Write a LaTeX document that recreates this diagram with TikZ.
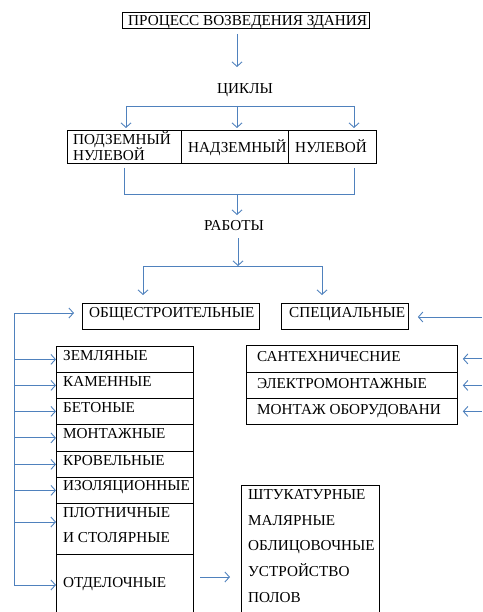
\documentclass[tikz,border=0pt]{standalone}
\usepackage{fontspec}
\setmainfont{Liberation Serif}
\usetikzlibrary{arrows.meta,calc}
\definecolor{lnblue}{RGB}{79,129,189}
\begin{document}
\begin{tikzpicture}[x=1pt,y=-1pt,
  font=\fontsize{15.2}{17}\selectfont,
  arr/.style={draw=lnblue, line width=0.9pt, -{Straight Barb[length=4.5pt,width=10pt]}},
  ln/.style={draw=lnblue, line width=0.9pt},
  box/.style={draw=black, line width=0.8pt, inner sep=0pt, anchor=north west},
  txt/.style={inner sep=0pt, anchor=base west}
]
\useasboundingbox (0,0) rectangle (482,612);

% ---- title ----
\node[box, line width=1.2pt, minimum width=247pt, minimum height=16pt] (title) at (122,12) {};
\node[txt] (ttl) at (128,25.5) {ПРОЦЕСС ВОЗВЕДЕНИЯ ЗДАНИЯ};

% ---- cycles ----
\node[txt] (cyc) at (217,94) {ЦИКЛЫ};
\node[box, minimum width=114pt, minimum height=33pt] (c1) at (67,130) {};
\node[box, minimum width=107pt, minimum height=33pt] (c2) at (181,130) {};
\node[box, minimum width=88pt, minimum height=33pt] (c3) at (288,130) {};
\node[txt] (c1a) at (73,145) {ПОДЗЕМНЫЙ};
\node[txt] (c1b) at (73,161) {НУЛЕВОЙ};
\node[txt] (c2t) at (188,153) {НАДЗЕМНЫЙ};
\node[txt] (c3t) at (295,153) {НУЛЕВОЙ};

% ---- works ----
\node[txt] (rab) at (204,230) {РАБОТЫ};
\node[box, minimum width=177pt, minimum height=26pt] (obs) at (82,303) {};
\node[txt] (obst) at (89,317.5) {ОБЩЕСТРОИТЕЛЬНЫЕ};
\node[box, minimum width=127pt, minimum height=26pt] (spec) at (281,303) {};
\node[txt] (spect) at (289,317.5) {СПЕЦИАЛЬНЫЕ};

% ---- general works list ----
\node[box, minimum width=137pt, minimum height=26pt] (r1) at (56,346) {};
\node[box, minimum width=137pt, minimum height=26pt] (r2) at (56,372) {};
\node[box, minimum width=137pt, minimum height=26pt] (r3) at (56,398) {};
\node[box, minimum width=137pt, minimum height=27pt] (r4) at (56,424) {};
\node[box, minimum width=137pt, minimum height=26pt] (r5) at (56,451) {};
\node[box, minimum width=137pt, minimum height=26pt] (r6) at (56,477) {};
\node[box, minimum width=137pt, minimum height=51pt] (r7) at (56,503) {};
\node[box, minimum width=137pt, minimum height=64pt] (r8) at (56,554) {};
\node[txt] (t1) at (63,360) {ЗЕМЛЯНЫЕ};
\node[txt] (t2) at (63,386.5) {КАМЕННЫЕ};
\node[txt] (t3) at (63,412.5) {БЕТОНЫЕ};
\node[txt] (t4) at (63,438) {МОНТАЖНЫЕ};
\node[txt] (t5) at (63,465) {КРОВЕЛЬНЫЕ};
\node[txt] (t6) at (63,490.5) {ИЗОЛЯЦИОННЫЕ};
\node[txt] (t7a) at (63,517) {ПЛОТНИЧНЫЕ};
\node[txt] (t7b) at (63,542) {И СТОЛЯРНЫЕ};
\node[txt] (t8) at (63,587) {ОТДЕЛОЧНЫЕ};

% ---- special works list ----
\node[box, minimum width=211pt, minimum height=27pt] (s1) at (246,345) {};
\node[box, minimum width=211pt, minimum height=26pt] (s2) at (246,372) {};
\node[box, minimum width=211pt, minimum height=26pt] (s3) at (246,398) {};
\node[txt] (u1) at (257,361) {САНТЕХНИЧЕСНИЕ};
\node[txt] (u2) at (257,388) {ЭЛЕКТРОМОНТАЖНЫЕ};
\node[txt] (u3) at (257,414) {МОНТАЖ ОБОРУДОВАНИ};

% ---- finishing list ----
\node[box, minimum width=138pt, minimum height=140pt] (fin) at (241,485) {};
\node[txt] (f1) at (248,499) {ШТУКАТУРНЫЕ};
\node[txt] (f2) at (248,525) {МАЛЯРНЫЕ};
\node[txt] (f3) at (248,550) {ОБЛИЦОВОЧНЫЕ};
\node[txt] (f4) at (248,576) {УСТРОЙСТВО};
\node[txt] (f5) at (248,602) {ПОЛОВ};

% ---- coordinates for free ends ----
\coordinate (ta) at (237,34);
\coordinate (ca) at (237,67);
\coordinate (bl) at (126,106);
\coordinate (bm) at (237,106);
\coordinate (br) at (354,106);
\coordinate (ce) at (237,128);
\coordinate (ul) at (124,168);
\coordinate (ur) at (354,168);
\coordinate (jl) at (124,194);
\coordinate (jm) at (237,194);
\coordinate (jr) at (354,194);
\coordinate (re) at (237,215);
\coordinate (ws) at (238,238);
\coordinate (wm) at (238,266);
\coordinate (wl) at (143,266);
\coordinate (wr) at (322,266);
\coordinate (we) at (0,295);
\coordinate (L) at (14,313);
\coordinate (Lb) at (14,585);
\coordinate (R) at (482,317);

% ---- connectors ----
\draw[arr] (ta) -- (ca);
\draw[ln] (bl) -- (br);
\draw[arr] (bl) -- (bl |- ce);
\draw[arr] (bm) -- (ce);
\draw[arr] (br) -- (br |- ce);
\draw[ln] (ul) -- (jl) -- (jr) -- (ur);
\draw[arr] (jm) -- (re);
\draw[arr] (ws) -- (wm);
\draw[ln] (wl) -- (wr);
\draw[arr] (wl) -- (wl |- we);
\draw[arr] (wr) -- (wr |- we);

\draw[ln] (L) -- (Lb);
\draw[arr] (L) -- ([xshift=-8pt]obs.west |- L);
\draw[arr] (R) -- ([xshift=9pt]spec.east |- R);
\foreach \r in {r1,r2,r3,r4,r5,r6}
  \draw[arr] (L |- \r.west) -- (\r.west);
\draw[arr] (14,522) -- (r7.west |- 0,522);
\draw[arr] (Lb) -- (r8.west |- Lb);

\foreach \s in {s1,s2,s3}
  \draw[arr] (R |- \s.east) -- ([xshift=5pt]\s.east);

\draw[arr] (200,577) -- ([xshift=-11pt]fin.west |- 0,577);
\end{tikzpicture}
\end{document}
